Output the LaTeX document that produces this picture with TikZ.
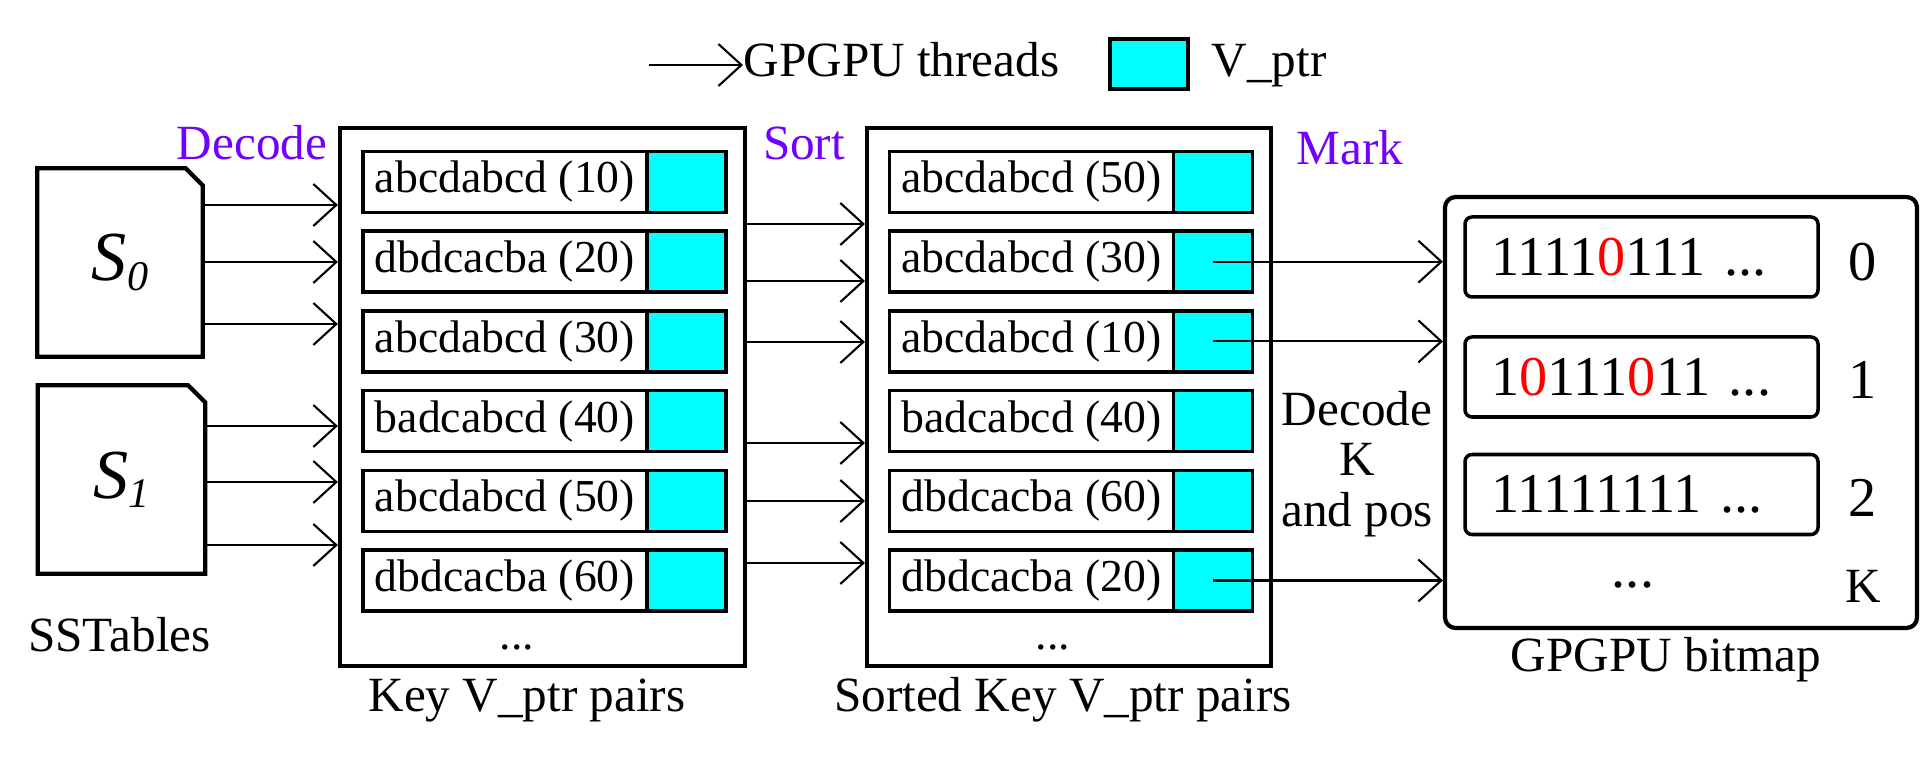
\documentclass[tikz,border=0pt]{standalone}
\usepackage{fontspec}
\setmainfont{Liberation Serif}
\usetikzlibrary{arrows.meta, positioning, calc}
\definecolor{ptrcyan}{RGB}{0,255,255}
\definecolor{stageviolet}{RGB}{112,0,255}
\definecolor{zerored}{RGB}{255,0,0}

\begin{document}
\begin{tikzpicture}[every node/.style={font=\fontsize{13}{15}\selectfont},
  thread/.style={-{Straight Barb[length=2.3mm, width=4.2mm]}, line width=0.6pt},
  keybox/.style={draw, line width=1pt, minimum width=2.84cm, minimum height=0.61cm, inner sep=0pt, outer sep=0pt},
  ptrbox/.style={draw, line width=1pt, fill=ptrcyan, minimum width=0.79cm, minimum height=0.61cm, inner sep=0pt, outer sep=0pt, anchor=west},
  column/.style={draw, line width=1.2pt, minimum width=4.05cm, minimum height=5.38cm, inner sep=0pt},
  stage/.style={text=stageviolet, font=\fontsize{14}{16}\selectfont, anchor=base},
  caption/.style={font=\fontsize{14}{16}\selectfont, anchor=base},
  bitrow/.style={draw, line width=1pt, rounded corners=2pt, minimum height=0.8cm, text width=3cm, inner xsep=0.265cm, align=left, font=\fontsize{16}{18}\selectfont}]
\useasboundingbox (0,0) rectangle (19.2,7.68);

% Legend
\coordinate (lg0) at (6.49,7.03);
\node[caption, anchor=base west, inner sep=0pt] (lgthread) at (7.43,6.91) {GPGPU threads};
\draw[thread] (lg0) -- (lg0 -| lgthread.west);
\node[draw, line width=1.2pt, fill=ptrcyan, minimum width=0.78cm, minimum height=0.5cm] (lgptr) at (11.49,7.04) {};
\node[caption, anchor=base west, inner sep=0pt] (lgptrtext) at (12.11,6.91) {V\_ptr};

% SSTables
\node[minimum width=1.64cm, minimum height=1.87cm] (sst0) at (1.20,5.055) {\fontsize{20}{20}\selectfont\itshape S\raisebox{-2.6pt}{\fontsize{12}{12}\selectfont 0}};
\draw[line width=1.2pt] (sst0.south west) -- (sst0.north west) -- ([xshift=-1.7mm]sst0.north east) -- ([yshift=-1.7mm]sst0.north east) -- (sst0.south east) -- cycle;
\node[minimum width=1.66cm, minimum height=1.87cm] (sst1) at (1.215,2.885) {\fontsize{20}{20}\selectfont\itshape S\raisebox{-2.6pt}{\fontsize{12}{12}\selectfont 1}};
\draw[line width=1.2pt] (sst1.south west) -- (sst1.north west) -- ([xshift=-1.7mm]sst1.north east) -- ([yshift=-1.7mm]sst1.north east) -- (sst1.south east) -- cycle;
\node[caption] (sstables) at (1.195,1.16) {SSTables};

% Key V_ptr pairs
\node[column] (keys) at (5.425,3.71) {};
\foreach \txt [count=\i] in {abcdabcd (10), dbdcacba (20), abcdabcd (30), badcabcd (40), abcdabcd (50), dbdcacba (60)} {
  \node[keybox] (k\i) at (5.05,{5.86-0.797*(\i-1)}) {\txt};
  \node[ptrbox] (kp\i) at (k\i.east) {};
}
\node[anchor=base] (kdots) at (5.17,1.18) {...};
\node[caption] (keyscap) at (5.27,0.56) {Key V\_ptr pairs};

% Sorted Key V_ptr pairs
\node[column, minimum width=4.04cm] (sorted) at (10.69,3.71) {};
\foreach \txt [count=\i] in {abcdabcd (50), abcdabcd (30), abcdabcd (10), badcabcd (40), dbdcacba (60), dbdcacba (20)} {
  \node[keybox] (r\i) at (10.315,{5.86-0.797*(\i-1)}) {\txt};
  \node[ptrbox] (rp\i) at (r\i.east) {};
}
\node[anchor=base] (rdots) at (10.53,1.18) {...};
\node[caption] (sortedcap) at (10.63,0.56) {Sorted Key V\_ptr pairs};

% GPGPU bitmap
\node[draw, line width=1.2pt, rounded corners=3pt, minimum width=4.72cm, minimum height=4.31cm] (bmap) at (16.81,3.555) {};
\node[bitrow] (b0) at (16.415,5.11) {1111\textcolor{zerored}{0}111 ...};
\node[bitrow] (b1) at (16.415,3.91) {1\textcolor{zerored}{0}111\textcolor{zerored}{0}11 ...};
\node[bitrow] (b2) at (16.415,2.735) {11111111 ...};
\node[font=\fontsize{16}{18}\selectfont] (i0) at (18.63,5.06) {0};
\node[font=\fontsize{16}{18}\selectfont] (i1) at (18.63,3.88) {1};
\node[font=\fontsize{16}{18}\selectfont] (i2) at (18.63,2.70) {2};
\node[font=\fontsize{16}{18}\selectfont, anchor=base] (bdots) at (16.33,1.80) {...};
\node[caption] (ik) at (18.63,1.65) {K};
\node[caption] (bmapcap) at (16.66,0.96) {GPGPU bitmap};

% Stages
\node[stage] (decode) at (2.52,6.08) {Decode};
\node[stage] (sort) at (8.04,6.08) {Sort};
\node[stage] (mark) at (13.50,6.03) {Mark};
\node[font=\fontsize{14}{14.3}\selectfont, align=center] (decodek) at (13.57,3.04) {Decode\\K\\and pos};

% GPGPU threads
\foreach \y in {5.63,5.06,4.44} \draw[thread] (sst0.east |- 0,\y) -- (keys.west |- 0,\y);
\foreach \y in {3.42,2.86,2.23} \draw[thread] (sst1.east |- 0,\y) -- (keys.west |- 0,\y);
\foreach \y in {5.44,4.87,4.26,3.25,2.67,2.05} \draw[thread] (keys.east |- 0,\y) -- (sorted.west |- 0,\y);
\foreach \i in {2,3,6} \draw[thread] (rp\i.center) -- (rp\i.center -| bmap.west);
\end{tikzpicture}
\end{document}
